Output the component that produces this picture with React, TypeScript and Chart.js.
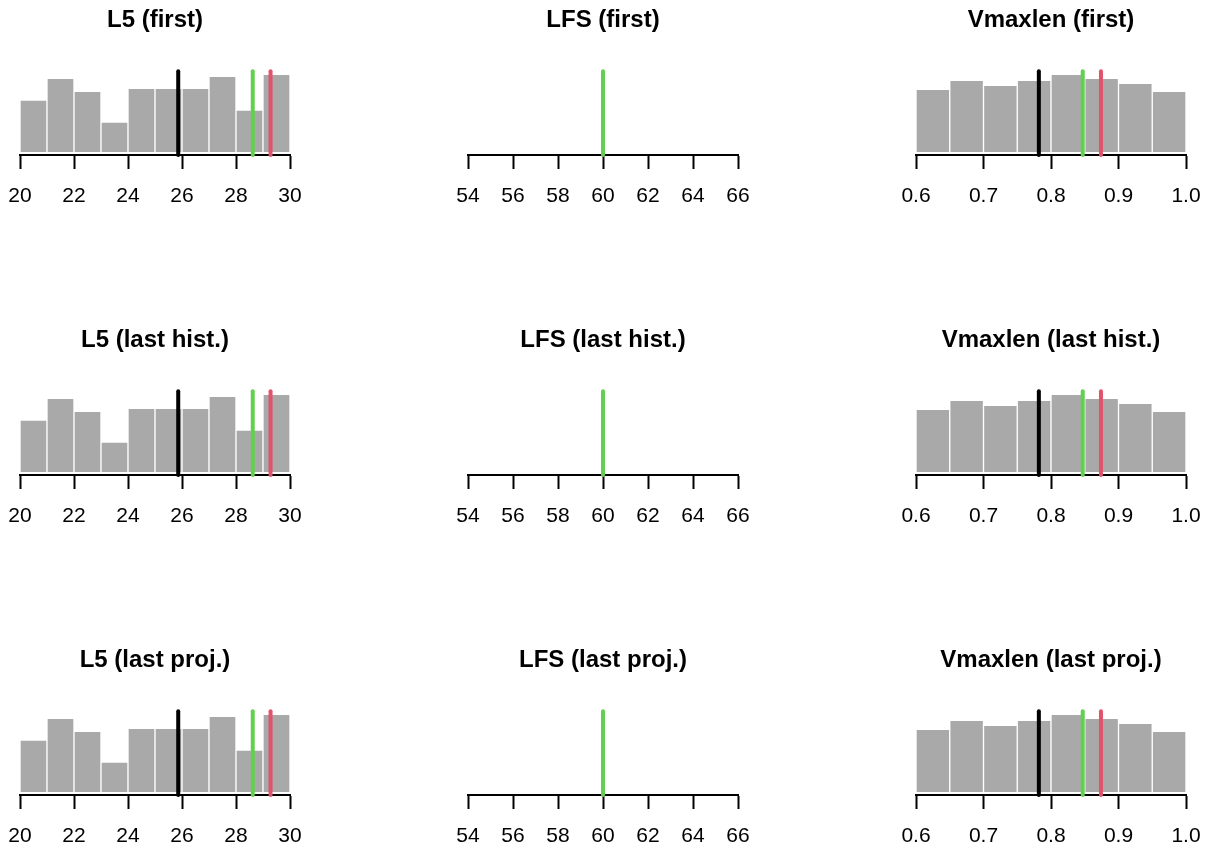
import React, { useEffect, useRef } from "react";
import { Chart, registerables } from "chart.js";

Chart.register(...registerables);

const FONT = '"Liberation Sans", Arial, Helvetica, sans-serif';

// Row captions (time step of the sampled parameter)
const STEPS = ["first", "last hist.", "last proj."];

// L5: histogram bins and reference values
const L5_BREAKS = [20, 21, 22, 23, 24, 25, 26, 27, 28, 29, 30];
const L5_COUNTS = [52, 74, 61, 30, 64, 64, 64, 76, 42, 78];
const L5_TICKS = [20, 22, 24, 26, 28, 30];
const L5_REFS = [25.86, 28.62, 29.28];

// LFS: every sample is the same value, so only the reference line shows
const LFS_BREAKS: number[] = [];
const LFS_COUNTS: number[] = [];
const LFS_TICKS = [54, 56, 58, 60, 62, 64, 66];
const LFS_REFS = [60];

// Vmaxlen: histogram bins and reference values
const VMAX_BREAKS = [0.6, 0.65, 0.7, 0.75, 0.8, 0.85, 0.9, 0.95, 1.0];
const VMAX_COUNTS = [63, 72, 67, 72, 78, 74, 69, 61];
const VMAX_TICKS = [0.6, 0.7, 0.8, 0.9, 1.0];
const VMAX_REFS = [0.782, 0.847, 0.874];

const BAR_COLOR = "#A9A9A9";
const REF_COLORS_3 = ["#000000", "#61D04F", "#DF536B"];
const REF_COLORS_1 = ["#61D04F"];

type PanelProps = {
  title: string;
  breaks: number[];
  counts: number[];
  ticks: number[];
  refs: number[];
  refColors: string[];
  digits: number;
  left: number;
  top: number;
};

const PLOT_W = 270;
const PAD = 40;
const CANVAS_H = 240;

function Panel(props: PanelProps) {
  const ref = useRef<HTMLCanvasElement | null>(null);

  useEffect(() => {
    const canvas = ref.current;
    if (!canvas) return;
    const { breaks, counts, ticks, refs, refColors, digits, title } = props;

    const yTop = counts.length ? Math.max(...counts) : 1;
    const yMin = -0.04 * yTop;
    const yMax = 1.04 * yTop;

    const bars = counts.map((c, i) => ({ x: (breaks[i] + breaks[i + 1]) / 2, y: c }));

    const refSets = refs.map((v, i) => ({
      type: "line" as const,
      data: [
        { x: v, y: yMin },
        { x: v, y: yMax },
      ],
      borderColor: refColors[i],
      borderWidth: 4,
      borderCapStyle: "round" as const,
      pointRadius: 0,
      clip: false as any,
      order: 0,
    }));

    const chart = new Chart(canvas, {
      type: "bar",
      data: {
        datasets: [
          ...refSets,
          {
            type: "bar" as const,
            data: bars,
            backgroundColor: BAR_COLOR,
            borderColor: "#FFFFFF",
            borderWidth: 1,
            barPercentage: 1,
            categoryPercentage: 1,
            order: 2,
          },
        ] as any,
      },
      options: {
        animation: false,
        responsive: false,
        events: [],
        layout: { padding: { left: PAD, right: PAD, top: 0, bottom: 0 } },
        plugins: {
          legend: { display: false },
          tooltip: { enabled: false },
          title: {
            display: true,
            text: title,
            color: "#000000",
            font: { family: FONT, size: 24, weight: "bold", lineHeight: 1.2 },
            padding: { top: 5.6, bottom: 36.8 },
          },
        },
        scales: {
          x: {
            type: "linear",
            offset: false,
            min: ticks[0],
            max: ticks[ticks.length - 1],
            afterBuildTicks: (scale: any) => {
              scale.ticks = ticks.map((v) => ({ value: v }));
            },
            afterFit: (scale: any) => {
              scale.height = 85;
            },
            ticks: {
              autoSkip: false,
              maxRotation: 0,
              minRotation: 0,
              padding: 15,
              color: "#000000",
              font: { family: FONT, size: 21 },
              callback: (v: any) => Number(v).toFixed(digits),
            },
            grid: {
              display: true,
              offset: false,
              drawOnChartArea: false,
              drawTicks: true,
              tickLength: 14,
              tickWidth: 2,
              tickColor: "#000000",
            },
            border: { display: true, color: "#000000", width: 2 },
          },
          y: {
            type: "linear",
            display: false,
            min: yMin,
            max: yMax,
          },
        },
      } as any,
    });

    return () => chart.destroy();
  }, []);

  return (
    <canvas
      ref={ref}
      width={PLOT_W + 2 * PAD}
      height={CANVAS_H}
      style={{
        position: "absolute",
        left: props.left - PAD,
        top: props.top,
        width: PLOT_W + 2 * PAD,
        height: CANVAS_H,
      }}
    />
  );
}

export default function App() {
  const cols = [
    { name: "L5", breaks: L5_BREAKS, counts: L5_COUNTS, ticks: L5_TICKS, refs: L5_REFS, colors: REF_COLORS_3, digits: 0 },
    { name: "LFS", breaks: LFS_BREAKS, counts: LFS_COUNTS, ticks: LFS_TICKS, refs: LFS_REFS, colors: REF_COLORS_1, digits: 0 },
    { name: "Vmaxlen", breaks: VMAX_BREAKS, counts: VMAX_COUNTS, ticks: VMAX_TICKS, refs: VMAX_REFS, colors: REF_COLORS_3, digits: 1 },
  ];

  return (
    <div
      style={{
        position: "fixed",
        left: 0,
        top: 0,
        width: 1212,
        height: 850,
        background: "#FFFFFF",
        overflow: "hidden",
      }}
    >
      {STEPS.map((step, r) =>
        cols.map((c, ci) => (
          <Panel
            key={`${r}-${ci}`}
            title={`${c.name} (${step})`}
            breaks={c.breaks}
            counts={c.counts}
            ticks={c.ticks}
            refs={c.refs}
            refColors={c.colors}
            digits={c.digits}
            left={20 + 448 * ci}
            top={320 * r}
          />
        ))
      )}
    </div>
  );
}
